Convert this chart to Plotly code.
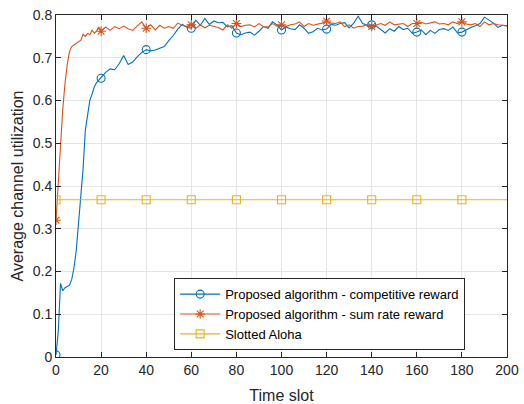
import plotly.graph_objects as go

# ---- data ----
time_slot = list(range(0, 21)) + list(range(22, 201, 2))

competitive = [
    0.005, 0.06, 0.172, 0.155, 0.162, 0.165, 0.168, 0.182, 0.21, 0.25, 0.315,
    0.375, 0.44, 0.53, 0.57, 0.60, 0.615, 0.632, 0.642, 0.648, 0.652,
    0.666, 0.674, 0.672, 0.686, 0.705, 0.684, 0.690, 0.702, 0.712, 0.719,
    0.716, 0.718, 0.722, 0.726, 0.740, 0.752, 0.767, 0.778, 0.772, 0.769,
    0.788, 0.776, 0.792, 0.778, 0.786, 0.782, 0.783, 0.772, 0.775, 0.758,
    0.754, 0.758, 0.760, 0.753, 0.762, 0.773, 0.769, 0.784, 0.777, 0.765,
    0.772, 0.768, 0.766, 0.777, 0.769, 0.757, 0.761, 0.769, 0.765, 0.767,
    0.778, 0.776, 0.780, 0.782, 0.770, 0.781, 0.797, 0.780, 0.776, 0.777,
    0.774, 0.766, 0.758, 0.768, 0.762, 0.773, 0.766, 0.769, 0.757, 0.760,
    0.765, 0.754, 0.764, 0.757, 0.766, 0.768, 0.764, 0.772, 0.758, 0.760,
    0.766, 0.771, 0.775, 0.780, 0.795, 0.789, 0.781, 0.771, 0.776, 0.775,
]

sum_rate = [
    0.32, 0.41, 0.51, 0.58, 0.64, 0.685, 0.715, 0.726, 0.730, 0.734, 0.738,
    0.741, 0.755, 0.750, 0.757, 0.754, 0.765, 0.757, 0.763, 0.772, 0.762,
    0.772, 0.764, 0.773, 0.768, 0.774, 0.768, 0.764, 0.774, 0.784, 0.769,
    0.777, 0.765, 0.776, 0.769, 0.773, 0.769, 0.781, 0.776, 0.772, 0.777,
    0.769, 0.777, 0.770, 0.776, 0.774, 0.771, 0.765, 0.777, 0.769, 0.780,
    0.773, 0.776, 0.777, 0.772, 0.780, 0.773, 0.772, 0.780, 0.774, 0.777,
    0.773, 0.777, 0.779, 0.784, 0.773, 0.780, 0.776, 0.778, 0.781, 0.786,
    0.781, 0.780, 0.784, 0.773, 0.777, 0.769, 0.773, 0.774, 0.777, 0.773,
    0.776, 0.780, 0.776, 0.784, 0.777, 0.779, 0.780, 0.773, 0.780, 0.780,
    0.783, 0.779, 0.781, 0.784, 0.779, 0.780, 0.777, 0.784, 0.780, 0.784,
    0.779, 0.777, 0.780, 0.773, 0.784, 0.777, 0.780, 0.777, 0.776, 0.774,
]

aloha_value = 0.368
aloha = [aloha_value for _ in time_slot]

names = ["Proposed algorithm - competitive reward",
         "Proposed algorithm - sum rate reward",
         "Slotted Aloha"]
colors = ["#0072BD", "#D95319", "#EDB120"]
symbols = ["circle-open", "asterisk-open", "square-open"]
series = [competitive, sum_rate, aloha]

x_ticks = list(range(0, 201, 20))
y_ticks = [0, 0.1, 0.2, 0.3, 0.4, 0.5, 0.6, 0.7, 0.8]

marker_idx = [i for i, v in enumerate(time_slot) if v % 20 == 0 and v < 200]

fig = go.Figure()
for name, col, sym, ys in zip(names, colors, symbols, series):
    fig.add_trace(go.Scatter(x=time_slot, y=ys, mode="lines",
                             line=dict(color=col, width=1.1),
                             showlegend=False, hoverinfo="skip"))
    fig.add_trace(go.Scatter(x=[time_slot[i] for i in marker_idx],
                             y=[ys[i] for i in marker_idx], mode="markers",
                             marker=dict(symbol=sym, color=col, size=8,
                                         line=dict(color=col, width=1.1)),
                             showlegend=False, hoverinfo="skip"))
for name, col, sym in zip(names, colors, symbols):
    fig.add_trace(go.Scatter(x=[None], y=[None], mode="lines+markers", name=name,
                             line=dict(color=col, width=1.1),
                             marker=dict(symbol=sym, color=col, size=8,
                                         line=dict(color=col, width=1.1))))

axis_common = dict(showline=True, linecolor="#262626", linewidth=1,
                   mirror="ticks", ticks="inside", ticklen=5,
                   tickcolor="#262626", showgrid=True, gridcolor="#e5e5e5",
                   gridwidth=1, zeroline=False, automargin=False,
                   tickfont=dict(family="Liberation Sans, Arial", size=14,
                                 color="#262626"))

fig.update_layout(
    width=524, height=404,
    margin=dict(l=56, r=17, t=15, b=47),
    paper_bgcolor="white", plot_bgcolor="white",
    font=dict(family="Liberation Sans, Arial", color="#262626"),
    xaxis=dict(range=[0, 200], tickvals=x_ticks,
               title=dict(text="Time slot", font=dict(size=16), standoff=13),
               **axis_common),
    yaxis=dict(range=[0, 0.8], tickvals=y_ticks,
               title=dict(text="Average channel utilization", font=dict(size=16),
                          standoff=5),
               **axis_common),
    legend=dict(x=0.262, y=0.02, xanchor="left", yanchor="bottom",
                bgcolor="white", bordercolor="#262626", borderwidth=1,
                font=dict(size=13, color="#000000"), tracegroupgap=0,
                itemwidth=40),
)

fig.write_html("out.html")
